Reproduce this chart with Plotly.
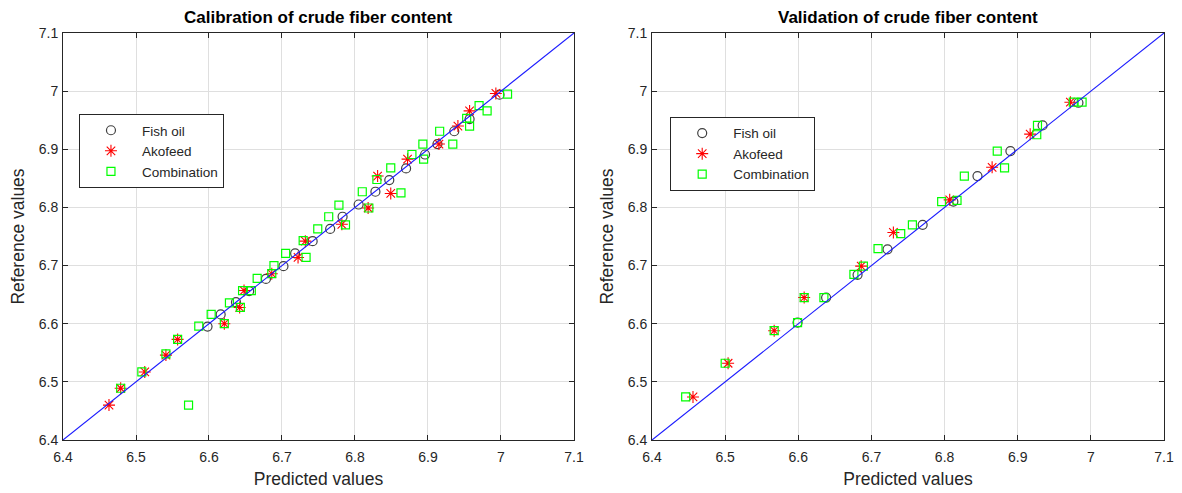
import plotly.graph_objects as go

# ---------------- data ----------------
diag = [6.4, 7.1]
tick_vals = [6.4, 6.5, 6.6, 6.7, 6.8, 6.9, 7.0, 7.1]
tick_text = ["6.4", "6.5", "6.6", "6.7", "6.8", "6.9", "7", "7.1"]

cal_fish_x = [6.598, 6.616, 6.637, 6.655, 6.678, 6.702, 6.718, 6.742, 6.766, 6.783,
              6.805, 6.828, 6.847, 6.870, 6.896, 6.913, 6.936, 6.957, 6.998]
cal_fish_y = [6.595, 6.616, 6.637, 6.656, 6.677, 6.699, 6.721, 6.742, 6.763, 6.784,
              6.805, 6.827, 6.847, 6.867, 6.891, 6.909, 6.931, 6.952, 6.994]

cal_ako_x = [6.463, 6.479, 6.512, 6.541, 6.557, 6.621, 6.642, 6.648, 6.686, 6.722,
             6.732, 6.782, 6.818, 6.831, 6.849, 6.872, 6.915, 6.941, 6.957, 6.993]
cal_ako_y = [6.460, 6.489, 6.517, 6.546, 6.573, 6.600, 6.628, 6.657, 6.686, 6.714,
             6.742, 6.771, 6.799, 6.854, 6.824, 6.883, 6.909, 6.940, 6.966, 6.996]

cal_comb_x = [6.479, 6.508, 6.541, 6.557, 6.572, 6.586, 6.603, 6.621, 6.628, 6.643,
              6.646, 6.658, 6.666, 6.686, 6.689, 6.705, 6.729, 6.733, 6.749, 6.764,
              6.778, 6.787, 6.810, 6.819, 6.830, 6.849, 6.863, 6.878, 6.893, 6.894,
              6.916, 6.934, 6.953, 6.957, 6.970, 6.981, 7.009]
cal_comb_y = [6.489, 6.517, 6.548, 6.573, 6.460, 6.596, 6.616, 6.600, 6.636, 6.628,
              6.657, 6.657, 6.678, 6.686, 6.700, 6.721, 6.743, 6.714, 6.763, 6.784,
              6.804, 6.770, 6.827, 6.799, 6.848, 6.868, 6.825, 6.891, 6.909, 6.883,
              6.931, 6.909, 6.953, 6.940, 6.975, 6.966, 6.995]

val_fish_x = [6.599, 6.638, 6.681, 6.722, 6.770, 6.812, 6.845, 6.890, 6.934, 6.983]
val_fish_y = [6.602, 6.645, 6.684, 6.728, 6.770, 6.810, 6.854, 6.897, 6.941, 6.980]

val_ako_x = [6.456, 6.504, 6.567, 6.608, 6.686, 6.730, 6.807, 6.865, 6.917, 6.972]
val_ako_y = [6.474, 6.532, 6.588, 6.645, 6.699, 6.757, 6.813, 6.869, 6.926, 6.981]

val_comb_x = [6.446, 6.500, 6.567, 6.599, 6.608, 6.635, 6.676, 6.689, 6.709, 6.740,
              6.756, 6.796, 6.817, 6.827, 6.872, 6.882, 6.926, 6.927, 6.976, 6.988]
val_comb_y = [6.474, 6.532, 6.588, 6.602, 6.645, 6.645, 6.685, 6.699, 6.729, 6.755,
              6.770, 6.810, 6.812, 6.854, 6.897, 6.868, 6.925, 6.941, 6.981, 6.981]

# ---------------- styles ----------------
FONT = "Liberation Sans, Arial, sans-serif"
TXT = "#262626"
fish_m = dict(symbol="circle-open", size=9, color="#404040", line=dict(width=1.2, color="#404040"))
ako_m = dict(symbol="asterisk-open", size=10, color="#ff0000", line=dict(width=1.1, color="#ff0000"))
comb_m = dict(symbol="square-open", size=8, color="#00ff00", line=dict(width=1.2, color="#00ff00"))

fig = go.Figure()

def add_panel(xa, ya, leg, fx, fy, ax, ay, cx, cy):
    fig.add_trace(go.Scatter(x=fx, y=fy, mode="markers", marker=fish_m, name="Fish oil",
                             xaxis=xa, yaxis=ya, legend=leg))
    fig.add_trace(go.Scatter(x=ax, y=ay, mode="markers", marker=ako_m, name="Akofeed",
                             xaxis=xa, yaxis=ya, legend=leg))
    fig.add_trace(go.Scatter(x=cx, y=cy, mode="markers", marker=comb_m, name="Combination",
                             xaxis=xa, yaxis=ya, legend=leg))
    fig.add_trace(go.Scatter(x=diag, y=diag, mode="lines", line=dict(color="#1a1aff", width=1.1),
                             showlegend=False, xaxis=xa, yaxis=ya, hoverinfo="skip"))

add_panel("x", "y", "legend", cal_fish_x, cal_fish_y, cal_ako_x, cal_ako_y, cal_comb_x, cal_comb_y)
add_panel("x2", "y2", "legend2", val_fish_x, val_fish_y, val_ako_x, val_ako_y, val_comb_x, val_comb_y)

def ax_style(title, domain, anchor, standoff, lblstand):
    return dict(range=diag, tickvals=tick_vals, ticktext=tick_text, domain=domain, anchor=anchor,
                showgrid=True, gridcolor="#dfdfdf", gridwidth=1, zeroline=False,
                showline=True, linecolor=TXT, linewidth=1, mirror="ticks",
                ticks="inside", ticklen=5, tickcolor=TXT, tickwidth=1,
                ticklabelstandoff=lblstand, automargin=False,
                tickfont=dict(family=FONT, size=14, color=TXT),
                title=dict(text=title, standoff=standoff,
                           font=dict(family=FONT, size=17.5, color=TXT)))

legend_common = dict(xanchor="left", yanchor="top", bgcolor="white", bordercolor=TXT,
                     borderwidth=1, font=dict(family=FONT, size=13.5, color=TXT),
                     itemwidth=52, tracegroupgap=0)

fig.update_layout(
    width=1182, height=493,
    margin=dict(l=63, r=18, t=33, b=53),
    paper_bgcolor="white", plot_bgcolor="white",
    font=dict(family=FONT, color=TXT),
    xaxis=ax_style("Predicted values", [0, 0.4641], "y", 8, 4),
    yaxis=ax_style("Reference values", [0, 1], "x", 9, 1),
    xaxis2=ax_style("Predicted values", [0.535, 1], "y2", 8, 4),
    yaxis2=ax_style("Reference values", [0, 1], "x2", 9, 1),
    legend=dict(x=0.0145, y=0.801, **legend_common),
    legend2=dict(x=0.5515, y=0.794, **legend_common),
    annotations=[
        dict(text="<b>Calibration of crude fiber content</b>", x=0.232, y=1, xref="paper", yref="paper",
             xanchor="center", yanchor="bottom", yshift=4, showarrow=False,
             font=dict(family=FONT, size=17, color="black")),
        dict(text="<b>Validation of crude fiber content</b>", x=0.7675, y=1, xref="paper", yref="paper",
             xanchor="center", yanchor="bottom", yshift=4, showarrow=False,
             font=dict(family=FONT, size=17, color="black")),
    ],
)

fig.write_html("out.html")
